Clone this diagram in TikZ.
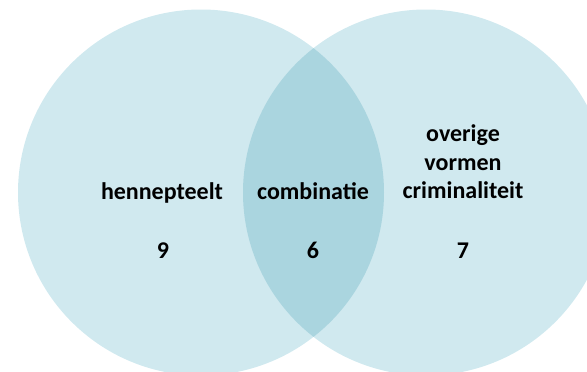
\documentclass[tikz,border=0pt]{standalone}
\usepackage{fontspec}
\setmainfont{Carlito}
\definecolor{setfill}{HTML}{D0E9EF}
\definecolor{lensfill}{HTML}{AAD5DF}
\begin{document}
\begin{tikzpicture}[x=1pt,y=-1pt,
  lbl/.style={font=\fontsize{24}{29}\selectfont\bfseries, inner sep=0pt, anchor=base, align=center}]
\useasboundingbox (0,0) rectangle (587,372);
\begin{scope}
\clip (0,0) rectangle (587,372);
\fill[setfill] (201,192.5) circle (183);
\fill[setfill] (426,192.5) circle (183);
\begin{scope}
\clip (201,192.5) circle (183);
\fill[lensfill] (426,192.5) circle (183);
\end{scope}
\end{scope}
\node[lbl] (hen) at (162,199) {hennepteelt};
\node[lbl] (comb) at (313,199) {combinatie};
\node[lbl] (over) at (463,141) {overige};
\node[lbl] (vorm) at (463,170) {vormen};
\node[lbl] (crim) at (463,198) {criminaliteit};
\node[lbl] (n9) at (163,258) {9};
\node[lbl] (n6) at (313,258) {6};
\node[lbl] (n7) at (463,258) {7};
\end{tikzpicture}
\end{document}
